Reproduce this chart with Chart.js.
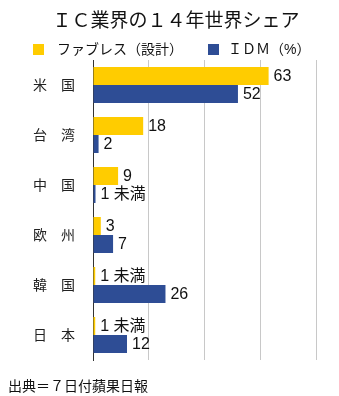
<!DOCTYPE html>
<html>
<head>
<meta charset="utf-8">
<script src="https://cdn.jsdelivr.net/npm/chart.js@4.4.1/dist/chart.umd.min.js"></script>
<style>
  html, body { margin: 0; padding: 0; background: #fff; }
  #wrap { position: relative; width: 339px; height: 396px; color: #111;
          font-family: "Liberation Sans", "Noto Sans CJK JP", sans-serif; }
  #chart { position: absolute; left: 0; top: 0; }
  .title { position: absolute; left: 13px; width: 326px; top: 9px; text-align: center;
           font-size: 19px; line-height: 24px; }
  .legend-item { position: absolute; top: 40px; font-size: 14px; line-height: 18px; white-space: nowrap; }
  .legend-box { position: absolute; top: 4px; width: 11px; height: 11px; }
  .footer { position: absolute; left: 8px; top: 377px; font-size: 14px; line-height: 18px; }
</style>
</head>
<body>
<div id="wrap">
  <canvas id="chart" width="339" height="396"></canvas>
  <div class="title">ＩＣ業界の１４年世界シェア</div>
  <div id="legend"></div>
  <div class="footer">出典＝７日付蘋果日報</div>
</div>
<script>
const categories = ["米　国", "台　湾", "中　国", "欧　州", "韓　国", "日　本"];
const seriesNames = ["ファブレス（設計）", "ＩＤＭ（%）"];
const seriesColors = ["#ffcc00", "#2e4d95"];

// "1 未満" (under 1) bars are drawn as a sliver
const fablessValues = [63, 18, 9, 2.8, 0.8, 0.8];
const idmValues = [52, 2, 0.9, 7.2, 26, 12.2];

const fablessLabels = ["63", "18", "9", "3", "1 未満", "1 未満"];
const idmLabels = ["52", "2", "1 未満", "7", "26", "12"];
const valueLabels = [fablessLabels, idmLabels];

// legend, laid out like the original
const legendX = [33, 208];
const legend = document.getElementById("legend");
seriesNames.forEach(function (name, i) {
    const item = document.createElement("div");
    item.className = "legend-item";
    item.style.left = legendX[i] + "px";
    item.style.paddingLeft = (i === 0 ? 24 : 20) + "px";
    item.innerHTML = '<span class="legend-box" style="left:0;background:' + seriesColors[i] + '"></span>' + name;
    legend.appendChild(item);
});

const barLabelPlugin = {
    id: "barLabels",
    afterDatasetsDraw: function (chart) {
        const ctx = chart.ctx;
        ctx.save();
        ctx.font = '16px "Liberation Sans", "Noto Sans CJK JP", sans-serif';
        ctx.fillStyle = "#111";
        ctx.textBaseline = "middle";
        chart.data.datasets.forEach(function (ds, i) {
            chart.getDatasetMeta(i).data.forEach(function (bar, j) {
                ctx.fillText(valueLabels[i][j], bar.x + 5, bar.y + 1);
            });
        });
        ctx.restore();
    }
};

new Chart(document.getElementById("chart"), {
    type: "bar",
    data: {
        labels: categories,
        datasets: [
            { label: seriesNames[0], data: fablessValues, backgroundColor: seriesColors[0],
              categoryPercentage: 0.72, barPercentage: 1 },
            { label: seriesNames[1], data: idmValues, backgroundColor: seriesColors[1],
              categoryPercentage: 0.72, barPercentage: 1 }
        ]
    },
    options: {
        indexAxis: "y",
        responsive: false,
        animation: false,
        layout: { padding: { top: 60, right: 23, bottom: 36, left: 0 } },
        plugins: {
            legend: { display: false },
            title: { display: false },
            tooltip: { enabled: false }
        },
        scales: {
            x: {
                min: 0,
                max: 80,
                ticks: { display: false, stepSize: 20 },
                grid: { color: "#c8c8c8", drawTicks: false },
                border: { display: false }
            },
            y: {
                grid: { display: false, drawTicks: false },
                border: { color: "#333" },
                ticks: {
                    color: "#222",
                    padding: 18,
                    font: { family: '"Noto Sans CJK JP", sans-serif', size: 14 }
                },
                afterFit: function (scale) { scale.width = 93; }
            }
        }
    },
    plugins: [barLabelPlugin]
});
</script>
</body>
</html>
